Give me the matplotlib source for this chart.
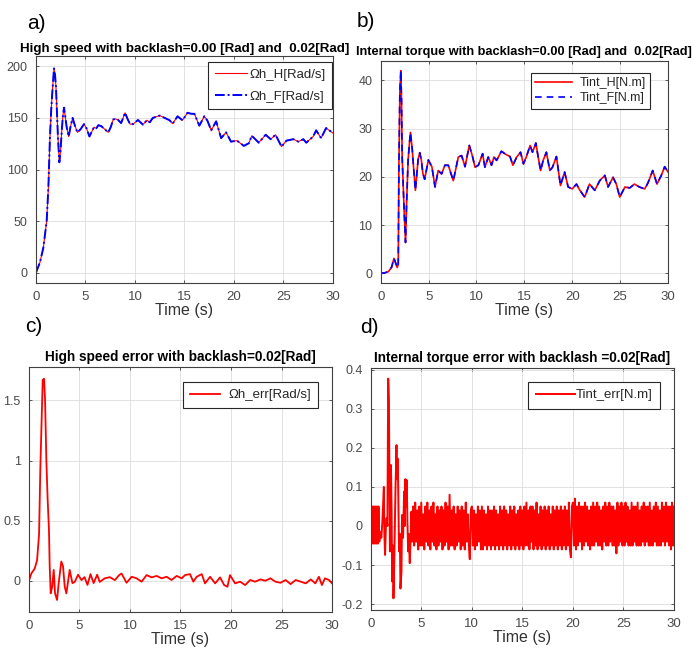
import numpy as np
import matplotlib
matplotlib.use("Agg")
import matplotlib.pyplot as plt
from matplotlib.ticker import FormatStrFormatter

plt.rcParams['font.family'] = ['Liberation Sans', 'DejaVu Sans']

# a) high speed, backlash 0.00 / 0.02 [Rad]
speedTime = [0, 0.4, 0.74, 1.08, 1.25, 1.41, 1.55, 1.68, 1.82, 1.92, 2.02, 2.12, 2.22, 2.36,
             2.48, 2.6, 2.72, 2.83, 2.95, 3.1, 3.3, 3.5, 3.7, 3.95, 4.18, 4.5, 4.85, 5.1,
             5.4, 5.65, 5.86, 6.1, 6.3, 6.6, 6.95, 7.3, 7.55, 7.8, 8.05, 8.3, 8.6, 9.0,
             9.25, 9.5, 9.8, 10.3, 10.8, 11.2, 11.5, 11.8, 12.5, 13.0, 13.5, 13.8, 14.3,
             14.8, 15.3, 15.7, 16.0, 16.5, 17.0, 17.3, 17.7, 18.2, 18.7, 19.2, 19.7, 20.3,
             21.0, 21.5, 21.8, 22.5, 23.2, 23.7, 24.2, 24.8, 25.3, 26.0, 26.5, 27.0, 27.3,
             28.0, 28.3, 28.8, 29.3, 30.0]
speedH = [0, 10, 24, 50, 82, 131, 160, 179, 198, 192, 180, 155, 131, 107,
          118, 137, 152, 160, 152, 141, 132, 142, 150, 142, 136, 139, 144, 140,
          132, 137, 141, 140, 143, 142, 139, 136, 141, 148.5, 149, 148, 145, 155,
          149, 144, 144, 148, 143.5, 147.7, 145.8, 150, 152.3, 150, 147.7, 144.4, 151.6,
          147.7, 155, 154, 154, 142.5, 151.6, 147.7, 138, 146.7, 130.4, 136, 127, 128,
          122.9, 125.5, 132.7, 126, 133.7, 129.4, 133.7, 122.2, 128, 129.4, 127, 129.4, 126,
          132, 138, 130.4, 140.2, 135.3]
speedF = list(speedH)

# b) internal torque, backlash 0.00 / 0.02 [Rad]
torqueTime = [0, 0.4, 0.8, 1.14, 1.38, 1.55, 1.72, 1.83, 1.9, 2.0, 2.1, 2.17, 2.24, 2.45,
              2.59, 2.7, 2.86, 3.0, 3.1, 3.28, 3.45, 3.62, 3.9, 4.07, 4.24, 4.4, 4.59, 4.97,
              5.34, 5.67, 6.0, 6.36, 6.7, 7.05, 7.58, 8.1, 8.45, 8.8, 9.25, 9.6, 9.84, 10.2,
              10.64, 10.88, 11.23, 11.57, 11.82, 12.1, 12.6, 13.1, 13.5, 13.8, 14.2, 14.6,
              14.9, 15.2, 15.6, 15.85, 16.2, 16.44, 16.7, 16.96, 17.3, 17.66, 17.94, 18.35,
              18.77, 19.2, 19.57, 20.0, 20.44, 20.8, 21.3, 21.8, 22.35, 22.87, 23.4, 23.74,
              24.26, 24.6, 24.96, 25.5, 26.0, 26.5, 27.0, 27.56, 27.9, 28.4, 28.85, 29.3,
              29.65, 30.0]
torqueH = [0, 0.1, 0.35, 1.3, 3.1, 2.2, 1.2, 1.9, 22.8, 37.8, 42, 36, 24, 12.7,
           6.4, 14.4, 23.5, 27, 29.2, 26, 21.4, 17.2, 23.5, 25, 23.5, 20.7, 19.5, 23.5,
           22.1, 17.9, 21.3, 20.6, 22.4, 22.4, 19.2, 24.1, 24.4, 22.1, 26.5, 24.1, 22, 22.4,
           24.8, 22, 24.1, 22.4, 24.1, 23.4, 25.3, 24.6, 24.2, 22.4, 24.1, 25.1,
           22.7, 24.1, 26.5, 25.1, 27, 24.1, 21.3, 23.4, 25.1, 21.3, 22, 24.2,
           18.2, 21, 17.9, 17.5, 18.5, 17.2, 15.8, 18.5, 17.2, 19.2, 20.3, 17.9,
           19.9, 18.5, 15.8, 17.9, 17.7, 18.5, 17.9, 17.5, 18.7, 21.3, 18.5, 20.3,
           22.1, 21]
torqueF = list(torqueH)

# c) high speed error
speedErrTime = [0, 0.23, 0.56, 0.8, 1.0, 1.12, 1.26, 1.36, 1.49, 1.59, 1.72, 1.85, 1.98, 2.05,
                2.15, 2.3, 2.45, 2.58, 2.78, 2.94, 3.2, 3.37, 3.54, 3.7, 4.03, 4.3, 4.53, 4.86,
                5.2, 5.5, 5.79, 6.09, 6.4, 6.75, 7.0, 7.5, 8.0, 8.5, 8.93, 9.16, 9.66, 10.16,
                10.65, 11.15, 11.64, 12.14, 12.64, 13.13, 13.63, 14.12, 14.62, 15.12, 15.45,
                15.94, 16.27, 16.6, 17.1, 17.43, 17.93, 18.43, 18.92, 19.32, 19.65, 19.9,
                20.41, 20.9, 21.4, 21.9, 22.4, 22.9, 23.4, 23.9, 24.4, 24.9, 25.4, 25.9,
                26.4, 26.9, 27.4, 27.9, 28.35, 28.7, 29.0, 29.3, 29.7, 30.0]
speedErr = [0, 0.06, 0.10, 0.17, 0.39, 0.92, 1.36, 1.67, 1.68, 1.51, 1.0, 0.67, 0.42, 0.12,
            -0.105, -0.05, 0.09, -0.105, -0.16, -0.02, 0.16, 0.12, -0.05, -0.105, 0.09, -0.02,
            -0.01, 0.05, 0.005, 0.03, -0.035, 0.055, -0.02, 0.05, -0.01, 0.02, 0.03, 0.005,
            0.047, 0.06, -0.017, 0.033, 0.02, -0.008, 0.047, 0.028, 0.04, 0.02, 0.033, 0.006,
            0.04, 0.02, 0.047, 0.055, -0.008, 0.033, 0.055, -0.022, 0.033, -0.022, 0.028,
            -0.036, -0.05, 0.047, -0.022, -0.008, -0.036, 0.006, -0.008, 0.011, 0.0, 0.02,
            -0.008, -0.017, 0.006, -0.028, 0.006, -0.008, -0.022, 0.011, -0.022, 0.033,
            -0.036, 0.02, 0.006, -0.022]

# d) internal torque error: transient part read point by point
torqueErrTime = [0.0, 0.03, 0.1, 0.17, 0.25, 0.32, 0.4, 0.47, 0.55, 0.62, 0.7, 0.77, 0.85,
                 0.95, 1.05, 1.15, 1.3, 1.35, 1.42, 1.5, 1.57, 1.65, 1.73, 1.8, 1.86, 1.9,
                 2.0, 2.06, 2.12, 2.2, 2.25, 2.32, 2.4, 2.45, 2.55, 2.6, 2.65, 2.71, 2.8,
                 2.88, 2.94, 3.04, 3.1, 3.2, 3.3, 3.36, 3.43, 3.5, 3.56, 3.63, 3.7, 3.76,
                 3.86, 3.95, 4.03, 4.1]
torqueErr = [0.0, 0.05, -0.045, 0.05, -0.045, 0.05, -0.045, 0.05, -0.045, 0.05, -0.045, 0.05,
             -0.04, -0.015, -0.03, 0.01, 0.1, -0.02, -0.074, 0.0, 0.02, 0.0, 0.377, 0.317,
             0.1, -0.065, 0.156, 0.05, -0.142, -0.05, -0.185, -0.1, 0.03, 0.096, 0.207,
             0.12, 0.173, 0.113, -0.065, -0.02, -0.16, -0.117, 0.028, -0.03, 0.088, 0.0,
             0.12, 0.05, 0.117, 0.011, -0.065, -0.02, -0.095, -0.03, 0.037, -0.04]
# d) steady chatter, one value every 0.1 s from 4.2 s to 30 s
torqueErrBand = [
    0.05, -0.05, 0.06, -0.04, 0.04, -0.06, 0.05, -0.05,
    0.06, -0.05, 0.03, -0.06, 0.05, -0.04, 0.06, -0.05, 0.04, -0.06,
    0.05, -0.04, 0.06, -0.05, 0.03, -0.06, 0.05, -0.05, 0.04, -0.04,
    0.05, -0.06, 0.04, -0.05, 0.06, -0.04, 0.05, -0.06, 0.08, -0.05,
    0.04, -0.05, 0.05, -0.06, 0.03, -0.05, 0.05, -0.04, 0.04, -0.06,
    0.05, -0.05, 0.04, -0.06, 0.06, -0.04, 0.03, -0.05, -0.085, 0.04,
    0.05, -0.05, 0.04, -0.06, 0.03, -0.05, 0.05, -0.04, 0.04, -0.06,
    0.05, -0.06, 0.04, -0.05, 0.03, -0.06, 0.05, -0.05, 0.04, -0.06,
    0.04, -0.05, 0.05, -0.06, 0.04, -0.05, 0.03, -0.06, 0.05, -0.05,
    0.04, -0.06, 0.05, -0.05, 0.04, -0.06, 0.03, -0.05, 0.05, -0.06,
    0.04, -0.05, 0.05, -0.06, 0.03, -0.05, 0.04, -0.06, 0.05, -0.05,
    0.04, -0.06, 0.05, -0.05, 0.06, -0.05, 0.04, -0.06, 0.05, -0.04,
    0.05, -0.06, 0.04, -0.05, 0.06, -0.06, 0.03, -0.05, 0.05, -0.06,
    0.04, -0.05, 0.05, -0.06, 0.04, -0.05, 0.05, -0.06, 0.03, -0.05,
    0.05, -0.06, 0.04, -0.05, 0.05, -0.06, 0.04, -0.05, 0.05, -0.06,
    0.04, -0.05, 0.05, -0.06, 0.04, -0.05, 0.06, -0.06, -0.08, 0.05,
    0.06, -0.05, 0.07, -0.06, 0.05, -0.05, 0.06, -0.04, 0.05, -0.06,
    0.05, -0.05, 0.06, -0.04, 0.05, -0.05, 0.04, -0.06, 0.05, -0.05,
    0.06, -0.05, 0.05, -0.04, 0.06, -0.05, 0.05, -0.05, 0.04, -0.06,
    0.05, -0.04, 0.06, -0.05, 0.05, -0.05, 0.06, -0.04, 0.05, -0.05,
    0.05, -0.05, 0.04, -0.07, 0.06, -0.05, 0.05, -0.04, 0.06, -0.05,
    0.05, -0.05, 0.06, -0.04, 0.05, -0.05, 0.04, -0.05, 0.06, -0.05,
    0.05, -0.04, 0.05, -0.05, 0.06, -0.05, 0.04, -0.05, 0.05, -0.04,
    0.06, -0.05, 0.05, -0.04, 0.05, -0.05, 0.06, -0.05, 0.04, -0.05,
    0.05, -0.04, 0.06, -0.05, 0.05, -0.05, 0.04, -0.05, 0.06, -0.04,
    0.05, -0.05, 0.06, -0.04, 0.05, -0.05, 0.05, -0.06, 0.06, -0.05,
    0.05,
]

xTicks = [0, 5, 10, 15, 20, 25, 30]

FRAME = '#404040'
TICKTXT = '#4a4a4a'


def style_axes(ax, ylim, yticks):
    ax.set_xlim(0, 30)
    ax.set_ylim(*ylim)
    ax.set_xticks(xTicks)
    ax.set_yticks(yticks)
    ax.yaxis.set_major_formatter(FormatStrFormatter('%g'))
    ax.grid(True, color='#dddddd', linewidth=0.6)
    ax.set_axisbelow(True)
    for s in ax.spines.values():
        s.set_color(FRAME)
        s.set_linewidth(0.8)
    ax.tick_params(direction='in', length=2.5, width=0.6, color=FRAME,
                   top=True, right=True, labelcolor=TICKTXT)
    ax.tick_params(axis='x', labelsize=9.5, pad=5.5)
    ax.tick_params(axis='y', labelsize=9, pad=6)
    ax.set_xlabel("Time (s)", fontsize=11.5, color='#333333', labelpad=0)


def add_legend(ax, anchor, size, spacing, hlen, tpad, bpad):
    leg = ax.legend(loc='upper right', bbox_to_anchor=anchor, borderaxespad=0,
                    fontsize=size, fancybox=False, framealpha=1, edgecolor='#262626',
                    handlelength=hlen, handletextpad=tpad, labelspacing=spacing,
                    borderpad=bpad)
    leg.get_frame().set_linewidth(0.8)
    for t in leg.get_texts():
        t.set_color('#262626')


def main():
    fig = plt.figure(figsize=(7, 6.53), dpi=100)

    axA = fig.add_axes([0.0514, 0.5666, 0.4243, 0.3476])
    axB = fig.add_axes([0.5439, 0.5666, 0.4104, 0.3400])
    axC = fig.add_axes([0.0414, 0.0628, 0.4329, 0.3756])
    axD = fig.add_axes([0.5296, 0.0658, 0.4333, 0.3711])

    # a)
    axA.plot(speedTime, speedH, color='red', linewidth=0.8, label='Ωh_H[Rad/s]')
    axA.plot(speedTime, speedF, color='blue', linewidth=1.4, linestyle='-.',
             dashes=(5, 1.5, 1, 1.5), label='Ωh_F[Rad/s]')
    style_axes(axA, (-10, 210), [0, 50, 100, 150, 200])
    axA.set_title("High speed with backlash=0.00 [Rad] and  0.02[Rad]",
                  fontsize=9.6, fontweight='bold', pad=3)
    add_legend(axA, (0.997, 0.974), 9.5, 0.75, 2.4, 0.2, 0.5)

    # b)
    axB.plot(torqueTime, torqueH, color='red', linewidth=1.2, label='Tint_H[N.m]')
    axB.plot(torqueTime, torqueF, color='blue', linewidth=1.2, linestyle='--',
             dashes=(4, 3), label='Tint_F[N.m]')
    style_axes(axB, (-2, 44), [0, 10, 20, 30, 40])
    axB.set_title("Internal torque with backlash=0.00 [Rad] and  0.02[Rad]",
                  fontsize=9.2, fontweight='bold', pad=4)
    add_legend(axB, (0.937, 0.946), 9, 0.25, 3.0, 0.55, 0.35)

    # c)
    axC.plot(speedErrTime, speedErr, color='red', linewidth=1.3, label='Ωh_err[Rad/s]')
    style_axes(axC, (-0.26, 1.78), [0, 0.5, 1, 1.5])
    axC.set_title("High speed error with backlash=0.02[Rad]",
                  fontsize=9.8, fontweight='bold', pad=4)
    add_legend(axC, (0.954, 0.939), 9.5, 0.5, 2.3, 0.6, 0.55)

    # d)
    bandTime = np.linspace(4.2, 30.0, len(torqueErrBand))
    dTime = list(torqueErrTime) + list(bandTime)
    dVals = list(torqueErr) + list(torqueErrBand)
    axD.plot(dTime, dVals, color='red', linewidth=1.4, label='Tint_err[N.m]')
    style_axes(axD, (-0.215, 0.405), [-0.2, -0.1, 0, 0.1, 0.2, 0.3, 0.4])
    axD.set_title("Internal torque error with backlash =0.02[Rad]",
                  fontsize=9.8, fontweight='bold', pad=4)
    add_legend(axD, (0.954, 0.942), 9.5, 0.5, 3.0, 0.05, 0.55)

    # panel letters
    for x, y, s in [(27, 29, 'a)'), (357, 27, 'b)'), (25, 332, 'c)'), (360, 333, 'd)')]:
        fig.text(x / 700, 1 - y / 653, s, fontsize=15, va='baseline', ha='left')

    fig.savefig("out.png", dpi=100)
    plt.close(fig)


if __name__ == "__main__":
    main()
